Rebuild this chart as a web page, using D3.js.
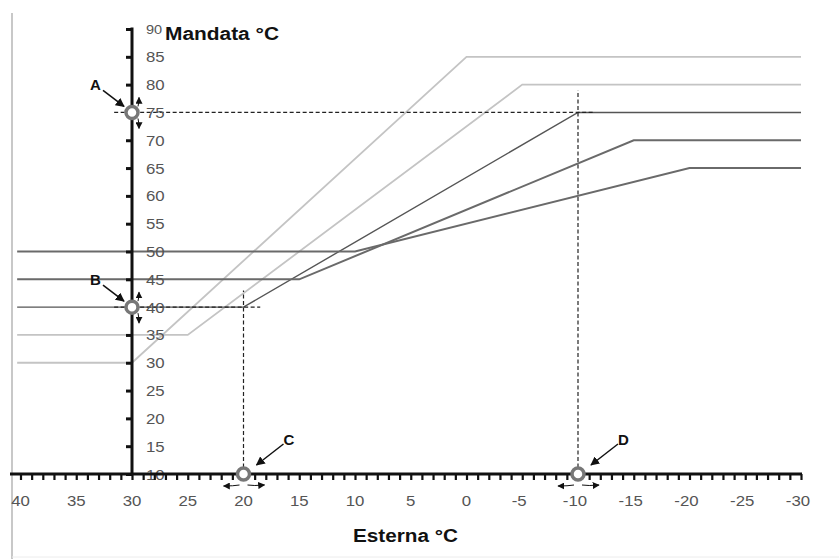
<!DOCTYPE html>
<html>
<head>
<meta charset="utf-8">
<script src="https://cdn.jsdelivr.net/npm/d3@7"></script>
<style>
  body { margin: 0; background: #fff; }
  text { font-family: "Liberation Sans", Arial, sans-serif; }
</style>
</head>
<body>
<svg id="chart" width="839" height="559"></svg>
<script>
// curve data: flat at low value, rises, flat at high value
let minVals = [30, 35, 40, 45, 50];
let maxVals = [85, 80, 75, 70, 65];
let lowBreak = [30, 25, 20, 15, 10];
let highBreak = [0, -5, -10, -15, -20];
let curveCols = ['#c4c4c4', '#c4c4c4', '#555555', '#6a6a6a', '#6a6a6a'];
let curveW = [1.8, 1.8, 1.4, 2, 2];

let yTicks = [10, 15, 20, 25, 30, 35, 40, 45, 50, 55, 60, 65, 70, 75, 80, 85, 90];
let xLabels = [40, 35, 30, 25, 20, 15, 10, 5, 0, -5, -10, -15, -20, -25, -30];

let mkLabels = ['A', 'B', 'C', 'D'];
let mkX = [30, 30, 20, -10];
let mkY = [75, 40, 10, 10];

// dashed guide lines [x1, y1, x2, y2]
let guides = [
    [31.6, 75, -11.5, 75],
    [-10, 10, -10, 79],
    [31.6, 40, 18.5, 40],
    [20, 10, 20, 43]
];

let svg = d3.select('#chart');

let x = d3.scaleLinear().domain([40, -30]).range([20.5, 801]);
let y = d3.scaleLinear().domain([10, 90]).range([474, 29]);

let defs = svg.append('defs');
defs.append('marker').attr('id', 'ah')
    .attr('viewBox', '0 0 10 10').attr('refX', 9).attr('refY', 5)
    .attr('markerWidth', 9).attr('markerHeight', 9).attr('markerUnits', 'userSpaceOnUse')
    .attr('orient', 'auto')
    .append('path').attr('d', 'M0,0 L10,5 L0,10 Z').attr('fill', '#111');
defs.append('marker').attr('id', 'ahs')
    .attr('viewBox', '0 0 10 10').attr('refX', 9).attr('refY', 5)
    .attr('markerWidth', 7).attr('markerHeight', 7).attr('markerUnits', 'userSpaceOnUse')
    .attr('orient', 'auto')
    .append('path').attr('d', 'M0,0 L10,5 L0,10 Z').attr('fill', '#111');

// frame lines
svg.append('line').attr('x1', 12).attr('x2', 12).attr('y1', 13).attr('y2', 559)
    .attr('stroke', '#c8c8c8').attr('stroke-width', 2);
svg.append('line').attr('x1', 12).attr('x2', 839).attr('y1', 557).attr('y2', 557)
    .attr('stroke', '#ececec').attr('stroke-width', 1);

// curves
let line = d3.line().x(d => x(d[0])).y(d => y(d[1]));
let curves = minVals.map((m, i) => [[40.3, m], [lowBreak[i], m], [highBreak[i], maxVals[i]], [-30, maxVals[i]]]);

svg.append('g').selectAll('path')
    .data(curves)
    .enter()
    .append('path')
    .attr('d', line)
    .attr('fill', 'none')
    .attr('stroke', (d, i) => curveCols[i])
    .attr('stroke-width', (d, i) => curveW[i]);

// dashed guides
svg.append('g').selectAll('line')
    .data(guides)
    .enter()
    .append('line')
    .attr('x1', d => x(d[0])).attr('y1', d => y(d[1]))
    .attr('x2', d => x(d[2])).attr('y2', d => y(d[3]))
    .attr('stroke', '#222')
    .attr('stroke-width', 1.2)
    .attr('stroke-dasharray', '4,2.5');

// y axis
let yAxis = d3.axisLeft(y).tickValues(yTicks).tickSize(6).tickFormat('');
let ya = svg.append('g').attr('transform', 'translate(' + x(30) + ',0)').call(yAxis);
ya.select('.domain').remove();
ya.selectAll('.tick line').attr('stroke', '#111').attr('stroke-width', 3);
svg.append('line').attr('x1', x(30)).attr('x2', x(30)).attr('y1', y(90) - 1.5).attr('y2', y(10))
    .attr('stroke', '#111').attr('stroke-width', 3);

svg.append('g').selectAll('text')
    .data(yTicks)
    .enter()
    .append('text')
    .attr('transform', d => 'translate(' + (x(30) + 14) + ',' + (y(d) + 5.5) + ') scale(1.12,1)')
    .attr('font-size', d => d === 90 ? 13 : 15)
    .attr('dy', d => d === 90 ? -1 : 0)
    .attr('fill', '#555')
    .text(d => d);

// x axis
let xAxis = d3.axisBottom(x).tickValues(d3.range(-30, 41, 1)).tickSize(6).tickFormat('');
let xa = svg.append('g').attr('transform', 'translate(0,' + y(10) + ')').call(xAxis);
xa.select('.domain').remove();
xa.selectAll('.tick line').attr('stroke', '#111').attr('stroke-width', 2.2);
svg.append('line').attr('x1', 10).attr('x2', x(-30) + 1).attr('y1', y(10)).attr('y2', y(10))
    .attr('stroke', '#111').attr('stroke-width', 3.2);

svg.append('g').selectAll('text')
    .data(xLabels)
    .enter()
    .append('text')
    .attr('transform', d => 'translate(' + (x(d) - (d < 0 ? 3 : 0)) + ',' + (y(10) + 32) + ') scale(1.12,1)')
    .attr('text-anchor', 'middle')
    .attr('font-size', 15)
    .attr('fill', '#555')
    .text(d => d);

// titles
svg.append('text').attr('x', 165).attr('y', 40)
    .attr('font-size', 18).attr('font-weight', 'bold').attr('fill', '#111')
    .attr('textLength', 114).attr('lengthAdjust', 'spacingAndGlyphs')
    .text('Mandata °C');
svg.append('text').attr('x', 353).attr('y', 542)
    .attr('font-size', 18).attr('font-weight', 'bold').attr('fill', '#111')
    .attr('textLength', 105).attr('lengthAdjust', 'spacingAndGlyphs')
    .text('Esterna °C');

// markers
let mk = svg.append('g').selectAll('g')
    .data(mkLabels)
    .enter()
    .append('g')
    .attr('transform', (d, i) => 'translate(' + x(mkX[i]) + ',' + y(mkY[i]) + ')');

// pointer arrow + letter
mk.append('line')
    .attr('x1', (d, i) => i < 2 ? -29 : 40)
    .attr('y1', (d, i) => i < 2 ? -22 : -30)
    .attr('x2', (d, i) => i < 2 ? -8 : 13)
    .attr('y2', (d, i) => i < 2 ? -6 : -9)
    .attr('stroke', '#111').attr('stroke-width', 1.5)
    .attr('marker-end', 'url(#ah)');
mk.append('text')
    .attr('x', (d, i) => i < 2 ? -42 : 40)
    .attr('y', (d, i) => i < 2 ? -22 : -29)
    .attr('font-size', 15).attr('font-weight', 'bold').attr('fill', '#111')
    .text(d => d);

// small direction arrows
mk.each(function (d, i) {
    let g = d3.select(this);
    if (i < 2) {
        g.append('path').attr('d', 'M6,-6 Q7,-10 7,-15').attr('fill', 'none')
            .attr('stroke', '#111').attr('stroke-width', 1).attr('marker-end', 'url(#ahs)');
        g.append('path').attr('d', 'M6,6 Q7,10 7,16').attr('fill', 'none')
            .attr('stroke', '#111').attr('stroke-width', 1).attr('marker-end', 'url(#ahs)');
    } else {
        g.append('path').attr('d', 'M-4,11 Q-10,12 -20,12').attr('fill', 'none')
            .attr('stroke', '#111').attr('stroke-width', 1).attr('marker-end', 'url(#ahs)');
        g.append('path').attr('d', 'M4,11 Q10,12 21,11').attr('fill', 'none')
            .attr('stroke', '#111').attr('stroke-width', 1).attr('marker-end', 'url(#ahs)');
    }
});

mk.append('circle')
    .attr('r', 6)
    .attr('fill', '#fff')
    .attr('stroke', '#777')
    .attr('stroke-width', 3.5);
</script>
</body>
</html>
